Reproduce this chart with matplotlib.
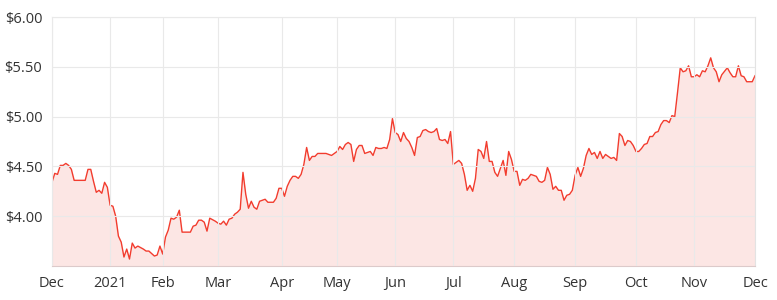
import numpy as np
import matplotlib
matplotlib.use("Agg")
import matplotlib.pyplot as plt
from matplotlib.ticker import FuncFormatter

plt.rcParams['font.family'] = ['Open Sans', 'DejaVu Sans']

# trading session number (0 = 1 Dec 2020) and closing price
sessions = [0, 1, 2, 3, 4, 5, 6, 7, 8, 12, 13, 14, 15, 16, 17, 18, 19, 20, 21, 22,
            23, 24, 25, 26, 27, 28, 29, 30, 31, 33, 34, 35, 37, 38, 39, 40, 41, 42, 43, 44,
            45, 46, 47, 49, 50, 51, 52, 53, 54, 55, 56, 57, 59, 60, 61, 62, 63, 64, 65, 66,
            67, 68, 69, 70, 71, 72, 73, 74, 75, 77, 78, 80, 81, 82, 83, 84, 85, 86, 87, 88,
            89, 90, 91, 92, 93, 94, 95, 96, 99, 100, 101, 102, 103, 104, 105, 106, 107, 108, 109, 110,
            111, 112, 113, 114, 115, 116, 117, 118, 119, 120, 121, 122, 123, 124, 125, 126, 127, 128, 129, 130,
            131, 132, 133, 134, 135, 136, 137, 138, 139, 140, 141, 142, 143, 144, 145, 146, 147, 148, 149, 150,
            151, 152, 153, 154, 155, 156, 157, 158, 159, 160, 161, 162, 163, 164, 165, 166, 167, 168, 169, 170,
            171, 172, 173, 174, 175, 176, 177, 178, 179, 180, 181, 182, 183, 184, 185, 186, 187, 188, 189, 190,
            191, 192, 193, 194, 195, 196, 197, 198, 199, 200, 201, 202, 203, 204, 205, 206, 207, 208, 209, 210,
            211, 212, 213, 214, 215, 216, 217, 218, 219, 220, 221, 222, 223, 224, 225, 226, 227, 228, 229, 230,
            231, 232, 233, 234, 235, 236, 237, 238, 239, 240, 241, 242, 244, 245, 246, 247, 248, 249, 250, 251,
            252, 253, 254]
price = [4.34, 4.43, 4.42, 4.51, 4.51, 4.53, 4.51, 4.47, 4.36, 4.36, 4.47, 4.47, 4.35, 4.24, 4.26, 4.23, 4.34, 4.29, 4.11, 4.10,
         4.00, 3.80, 3.74, 3.59, 3.67, 3.57, 3.73, 3.68, 3.70, 3.67, 3.65, 3.65, 3.60, 3.61, 3.70, 3.62, 3.79, 3.86, 3.98, 3.97,
         3.99, 4.06, 3.84, 3.84, 3.84, 3.90, 3.91, 3.96, 3.96, 3.94, 3.85, 3.98, 3.95, 3.93, 3.92, 3.95, 3.91, 3.97, 3.98, 4.02,
         4.04, 4.07, 4.44, 4.22, 4.08, 4.15, 4.09, 4.07, 4.15, 4.17, 4.14, 4.14, 4.18, 4.28, 4.28, 4.20, 4.30, 4.36, 4.40, 4.40,
         4.38, 4.42, 4.52, 4.69, 4.56, 4.60, 4.60, 4.63, 4.63, 4.62, 4.61, 4.63, 4.65, 4.70, 4.67, 4.72, 4.74, 4.72, 4.55, 4.67,
         4.71, 4.71, 4.63, 4.64, 4.65, 4.61, 4.69, 4.68, 4.68, 4.69, 4.68, 4.77, 4.98, 4.84, 4.82, 4.75, 4.84, 4.78, 4.75, 4.69,
         4.61, 4.79, 4.80, 4.86, 4.87, 4.85, 4.84, 4.85, 4.88, 4.77, 4.76, 4.77, 4.73, 4.85, 4.52, 4.54, 4.56, 4.53, 4.42, 4.26,
         4.31, 4.25, 4.38, 4.67, 4.65, 4.58, 4.75, 4.55, 4.55, 4.44, 4.40, 4.48, 4.56, 4.41, 4.65, 4.57, 4.45, 4.45, 4.31, 4.37,
         4.36, 4.38, 4.42, 4.41, 4.40, 4.35, 4.34, 4.36, 4.49, 4.42, 4.27, 4.30, 4.26, 4.26, 4.16, 4.21, 4.22, 4.26, 4.41, 4.49,
         4.40, 4.48, 4.61, 4.68, 4.62, 4.64, 4.58, 4.65, 4.58, 4.62, 4.60, 4.58, 4.59, 4.56, 4.83, 4.80, 4.71, 4.76, 4.75, 4.71,
         4.65, 4.65, 4.68, 4.72, 4.73, 4.80, 4.80, 4.84, 4.85, 4.92, 4.96, 4.96, 4.94, 5.01, 5.00, 5.24, 5.49, 5.45, 5.46, 5.51,
         5.40, 5.40, 5.42, 5.40, 5.46, 5.45, 5.51, 5.59, 5.49, 5.45, 5.35, 5.42, 5.49, 5.44, 5.40, 5.40, 5.51, 5.41, 5.40, 5.35,
         5.35, 5.35, 5.41]

# first session of each month
month_starts = [0, 21, 40, 60, 83, 103, 124, 145, 167, 189, 211, 232, 254]
month_labels = ["Dec", "2021", "Feb", "Mar", "Apr", "May", "Jun", "Jul", "Aug", "Sep", "Oct", "Nov", "Dec"]
y_ticks = [4.0, 4.5, 5.0, 5.5, 6.0]

line_color = "#f23c2e"
fill_color = "#fce6e4"

fig = plt.figure(figsize=(7.77, 3.0), dpi=100)
ax = fig.add_axes([52 / 777, 34 / 300, 703 / 777, 249 / 300])

ax.fill_between(sessions, price, 3.0, color=fill_color, lw=0)
ax.plot(sessions, price, color=line_color, lw=1.0)

ax.set_xlim(0, 254)
ax.set_ylim(3.5, 6.0)
ax.set_yticks(y_ticks)
ax.yaxis.set_major_formatter(FuncFormatter(lambda v, p: f"${v:.2f}"))
ax.set_xticks(month_starts)
ax.set_xticklabels(month_labels)

ax.grid(True, color="#e9e9e9", lw=0.8)
ax.set_axisbelow(False)
for s in ax.spines.values():
    s.set_color("#e3e3e3")
    s.set_linewidth(0.8)
ax.spines["bottom"].set_color("#dccaca")
ax.tick_params(length=0, labelsize=10.5, colors="#333333", pad=7)

fig.savefig("out.png", dpi=100)
